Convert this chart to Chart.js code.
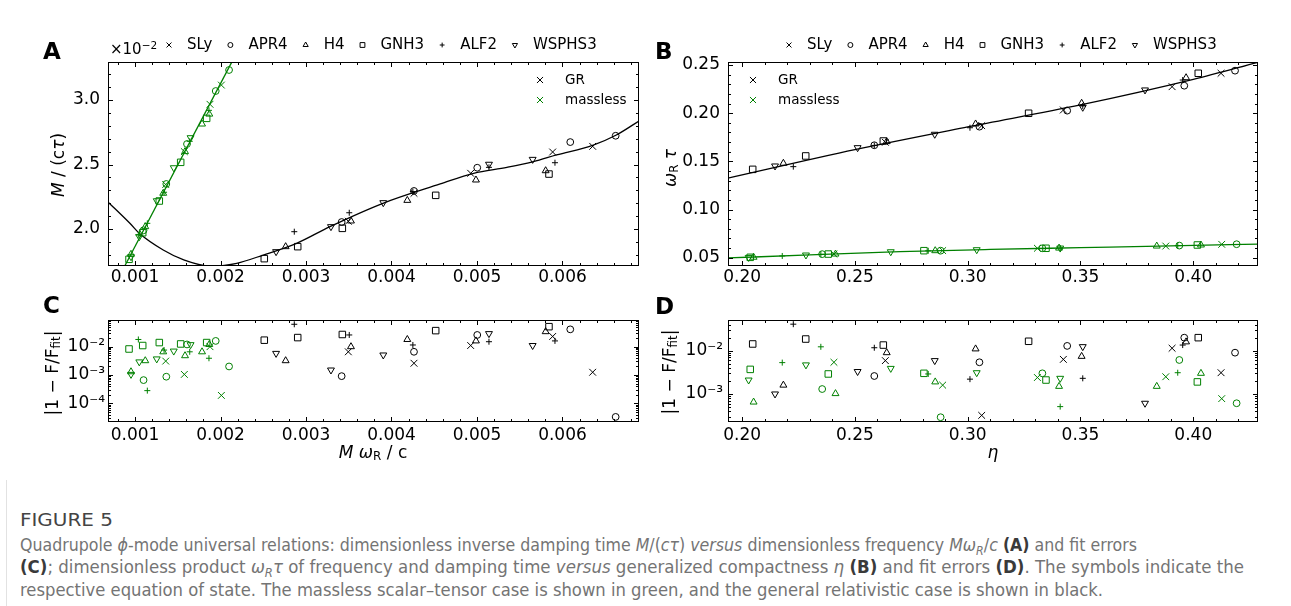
<!DOCTYPE html>
<html>
<head>
<meta charset="utf-8">
<title>Figure 5</title>
<script src="https://cdn.jsdelivr.net/npm/chart.js@4.4.1/dist/chart.umd.min.js"></script>
<style>
  html, body { margin: 0; padding: 0; background: #fff; }
  body { position: relative; width: 1291px; height: 606px; overflow: hidden; font-family: 'DejaVu Sans', sans-serif; color: #000; }
  .box { position: absolute; }
  .letter { position: absolute; font: bold 23px 'DejaVu Sans', sans-serif; line-height: 1; }
  .ytitle { position: absolute; white-space: nowrap; font-size: 17px; line-height: 1; transform: translate(-50%, -50%) rotate(-90deg); }
  .xtitle { position: absolute; white-space: nowrap; font-size: 17px; line-height: 1; transform: translate(-50%, -50%); }
  .ytitle sub, .xtitle sub { font-size: 70%; vertical-align: -0.22em; line-height: 0; }
  .offset { position: absolute; left: 110px; top: 42px; font-size: 15px; line-height: 1; }
  .offset sup { font-size: 70%; vertical-align: 0.45em; line-height: 0; }
  .cap { position: absolute; left: 20px; white-space: nowrap; line-height: 20px; transform-origin: 0 50%;
         font-family: 'Liberation Sans Narrow', 'DejaVu Sans Condensed', 'Liberation Sans', sans-serif; font-size: 17px; color: #747474; }
  .cap b { color: #3a3a3a; }
  .cap sub { font-size: 70%; line-height: 0; }
  .fig { font-weight: normal; color: #444; font-size: 18px; }
  .rule { position: absolute; left: 6px; top: 480px; width: 1px; height: 126px; background: #e2e2e2; }
</style>
</head>
<body>

<div class="box" style="left:30px;top:30px;width:630px;height:270px"><canvas id="chartA" width="630" height="270"></canvas></div>
<div class="box" style="left:650px;top:30px;width:620px;height:270px"><canvas id="chartB" width="620" height="270"></canvas></div>
<div class="box" style="left:30px;top:300px;width:630px;height:160px"><canvas id="chartC" width="630" height="160"></canvas></div>
<div class="box" style="left:650px;top:300px;width:620px;height:160px"><canvas id="chartD" width="620" height="160"></canvas></div>

<div class="letter" style="left:43px;top:40px">A</div>
<div class="letter" style="left:655px;top:40px">B</div>
<div class="letter" style="left:43px;top:294px">C</div>
<div class="letter" style="left:655px;top:295px">D</div>

<div class="offset">×10<sup>−2</sup></div>
<div class="ytitle" style="left:58px;top:165px"><i>M</i> / (c<i>τ</i>)</div>
<div class="ytitle" style="left:670px;top:168px"><i>ω</i><sub>R</sub> <i>τ</i></div>
<div class="ytitle" style="left:52px;top:373px">|1 − F/F<sub>fit</sub>|</div>
<div class="ytitle" style="left:669px;top:372px">|1 − F/F<sub>fit</sub>|</div>
<div class="xtitle" style="left:373px;top:452px"><i>M</i> <i>ω</i><sub>R</sub> / c</div>
<div class="xtitle" style="left:993px;top:452px"><i>η</i></div>

<div class="rule"></div>
<div class="cap fig fit" data-w="93" style="top:510px">FIGURE 5</div>
<div class="cap fit" data-w="1117" style="top:535px">Quadrupole <i>ϕ</i>-mode universal relations: dimensionless inverse damping time <i>M</i>/(<i>cτ</i>) <i>versus</i> dimensionless frequency <i>Mω<sub>R</sub></i>/<i>c</i> <b>(A)</b> and fit errors</div>
<div class="cap fit" data-w="1224" style="top:557px"><b>(C)</b>; dimensionless product <i>ω<sub>R</sub>τ</i> of frequency and damping time <i>versus</i> generalized compactness <i>η</i> <b>(B)</b> and fit errors <b>(D)</b>. The symbols indicate the</div>
<div class="cap fit" data-w="1083" style="top:580px">respective equation of state. The massless scalar–tensor case is shown in green, and the general relativistic case is shown in black.</div>

<script>
// Equations of state and their markers
const eosNames = ['SLy', 'APR4', 'H4', 'GNH3', 'ALF2', 'WSPHS3'];
const eosMarkers = ['crossRot', 'circle', 'triangle', 'rect', 'cross', 'triangle'];
const eosRotation = [0, 0, 0, 0, 0, 180];
const eosRadius = [4.8, 3.4, 4, 4.6, 3, 4];
const keyRadius = [3.5, 2.5, 3, 3.4, 2.4, 3];

// Panel A / C : M omega_R / c  vs  M/(c tau) [x 1e-2], fit errors
const grMw = [
  [0.003495, 0.004263, 0.004926, 0.005885, 0.006353],
  [0.003417, 0.004263, 0.005003, 0.006091, 0.006622],
  [0.002762, 0.003526, 0.004185, 0.004988, 0.005803],
  [0.002512, 0.002903, 0.003425, 0.004517, 0.005842],
  [0.002863, 0.003506, 0.004250, 0.005140, 0.005912],
  [0.002650, 0.003292, 0.003904, 0.005140, 0.005651]
];
const grInvTau = [
  [2.060, 2.277, 2.432, 2.597, 2.641],
  [2.054, 2.295, 2.475, 2.674, 2.723],
  [1.863, 2.062, 2.222, 2.380, 2.452],
  [1.770, 1.863, 2.005, 2.261, 2.426],
  [1.979, 2.126, 2.290, 2.478, 2.514],
  [1.824, 2.018, 2.204, 2.502, 2.540]
];
const grErrA = [
  [6.6e-3, 2.6e-3, 1.1e-2, 2.3e-2, 1.25e-3],
  [9.1e-4, 6.6e-3, 2.6e-2, 4.1e-2, 3.3e-5],
  [3.2e-3, 1.0e-2, 1.8e-2, 1.6e-2, 3.4e-2],
  [1.7e-2, 2.1e-2, 2.7e-2, 3.7e-2, 5.1e-2],
  [6.2e-2, 2.6e-2, 1.15e-2, 1.5e-2, 1.6e-2],
  [5.8e-3, 1.5e-3, 5.1e-3, 2.9e-2, 1.1e-2]
];
const msMw = [
  [0.001359, 0.001577, 0.001877, 0.002010],
  [0.001100, 0.001366, 0.001608, 0.001944, 0.002100],
  [0.000953, 0.001120, 0.001330, 0.001585, 0.001784, 0.001869],
  [0.000930, 0.001090, 0.001284, 0.001534, 0.001838],
  [0.001039, 0.001144, 0.001340, 0.001640, 0.001865],
  [0.000953, 0.001050, 0.001254, 0.001453, 0.001650]
];
const msInvTau = [
  [2.345, 2.600, 2.967, 3.116],
  [1.990, 2.349, 2.659, 3.070, 3.233],
  [1.804, 2.018, 2.277, 2.600, 2.814, 2.891],
  [1.765, 1.971, 2.217, 2.517, 2.858],
  [1.955, 2.044, 2.285, 2.680, 2.920],
  [1.785, 1.940, 2.219, 2.475, 2.708]
];
const msErrA = [
  [3.1e-3, 1.05e-3, 1.0e-2, 1.9e-4],
  [6.6e-4, 8.7e-4, 1.2e-2, 1.6e-2, 2.0e-3],
  [1.3e-3, 3.2e-3, 6.6e-3, 4.8e-3, 6.6e-3, 1.2e-2],
  [8.3e-3, 1.1e-2, 1.4e-2, 1.25e-2, 1.4e-2],
  [1.8e-2, 2.8e-4, 7.6e-3, 6.6e-3, 3.9e-3],
  [1.05e-3, 2.9e-3, 3.7e-3, 7.0e-3, 1.18e-2]
];
const grFitAx = [0.00068, 0.00094, 0.00106, 0.00133, 0.00157, 0.00188, 0.00219, 0.00250, 0.00289, 0.00328, 0.00390, 0.00457, 0.00496, 0.00535, 0.00566, 0.00593, 0.00636, 0.00663, 0.00690];
const grFitAy = [2.212, 2.044, 1.961, 1.837, 1.760, 1.710, 1.734, 1.798, 1.889, 2.018, 2.199, 2.349, 2.432, 2.478, 2.522, 2.574, 2.651, 2.729, 2.840];
const msFitAx = [0.00088, 0.00213];
const msFitAy = [1.713, 3.292];

// Panel B / D : eta  vs  omega_R tau, fit errors
const grEta = [
  [0.2635, 0.3062, 0.3424, 0.3906, 0.4123],
  [0.2586, 0.3052, 0.3441, 0.3960, 0.4185],
  [0.2183, 0.2641, 0.3035, 0.3505, 0.3968],
  [0.2047, 0.2282, 0.2626, 0.3270, 0.4022],
  [0.2227, 0.2586, 0.3010, 0.3510, 0.3953],
  [0.2146, 0.2512, 0.2854, 0.3510, 0.3786]
];
const grOmegaTau = [
  [0.1698, 0.1870, 0.2033, 0.2275, 0.2414],
  [0.1667, 0.1860, 0.2026, 0.2285, 0.2441],
  [0.1480, 0.1705, 0.1888, 0.2103, 0.2368],
  [0.1417, 0.1556, 0.1711, 0.1999, 0.2414],
  [0.1445, 0.1665, 0.1849, 0.2075, 0.2344],
  [0.1452, 0.1642, 0.1781, 0.2061, 0.2241]
];
const grErrB = [
  [5.9e-3, 3.2e-4, 6.3e-3, 1.14e-2, 3.1e-3],
  [2.6e-3, 5.4e-3, 1.29e-2, 2.0e-2, 9.0e-3],
  [1.6e-3, 9.0e-3, 1.1e-2, 7.4e-3, 1.6e-2],
  [1.43e-2, 1.86e-2, 1.35e-2, 1.65e-2, 2.0e-2],
  [4.1e-2, 1.17e-2, 2.2e-3, 2.3e-3, 1.35e-2],
  [1.0e-3, 3.3e-3, 5.9e-3, 1.24e-2, 6.1e-4]
];
const msEta = [
  [0.2407, 0.2889, 0.3309, 0.3878, 0.4126],
  [0.2355, 0.2880, 0.3331, 0.3938, 0.4192],
  [0.2051, 0.2414, 0.2856, 0.3405, 0.3838, 0.4034],
  [0.2036, 0.2382, 0.2806, 0.3347, 0.4018],
  [0.2178, 0.2349, 0.2825, 0.3410, 0.3931],
  [0.2029, 0.2283, 0.2659, 0.3040, 0.3410]
];
const msOmegaTau = [
  [0.0538, 0.0574, 0.0598, 0.0621, 0.0639],
  [0.0537, 0.0573, 0.0598, 0.0626, 0.0640],
  [0.0505, 0.0538, 0.0573, 0.0600, 0.0621, 0.0632],
  [0.0504, 0.0538, 0.0573, 0.0598, 0.0632],
  [0.0518, 0.0535, 0.0572, 0.0600, 0.0626],
  [0.0503, 0.0528, 0.0562, 0.0583, 0.0600]
];
const msErrB = [
  [5.4e-3, 1.6e-3, 2.4e-3, 2.5e-3, 7.8e-4],
  [1.3e-3, 2.9e-4, 3.0e-3, 6.1e-3, 6.1e-4],
  [6.5e-4, 1.02e-3, 1.9e-3, 1.5e-3, 1.5e-3, 3.0e-3],
  [3.7e-3, 2.9e-3, 3.0e-3, 2.1e-3, 1.9e-3],
  [5.3e-3, 1.23e-2, 2.9e-3, 5.1e-4, 3.1e-3],
  [2.1e-3, 4.7e-3, 3.9e-3, 3.1e-3, 2.3e-3]
];
const grFitBx = [0.1933, 0.25, 0.30, 0.35, 0.40, 0.4290];
const grFitBy = [0.1324, 0.1622, 0.1858, 0.2085, 0.2350, 0.2530];
const msFitBx = [0.1933, 0.23, 0.27, 0.31, 0.35, 0.39, 0.4290];
const msFitBy = [0.0497, 0.0529, 0.0563, 0.0586, 0.0604, 0.0622, 0.0642];

// Tick labels
const mwTicks = [0.001, 0.002, 0.003, 0.004, 0.005, 0.006];
const invTauTicks = [2.0, 2.5, 3.0];
const etaTicks = [0.20, 0.25, 0.30, 0.35, 0.40];
const omegaTauTicks = [0.05, 0.10, 0.15, 0.20, 0.25];
const errTicksC = [1e-4, 1e-3, 1e-2];
const errTicksD = [1e-3, 1e-2];

const GREEN = '#008000';
const FONT = "'DejaVu Sans'";

function eosSets(xs, ys, color) {
  return eosNames.map((name, i) => ({
    label: name,
    data: xs[i].map((x, j) => ({ x: x, y: ys[i][j] })),
    pointStyle: eosMarkers[i],
    pointRotation: eosRotation[i],
    pointRadius: eosRadius[i],
    pointBorderWidth: 1,
    pointBorderColor: color,
    pointBackgroundColor: 'rgba(0,0,0,0)',
    showLine: false
  }));
}

function fitSet(xs, ys, color) {
  return {
    label: 'fit',
    data: xs.map((x, i) => ({ x: x, y: ys[i] })),
    showLine: true,
    borderColor: color,
    borderWidth: 1.3,
    pointRadius: 0,
    cubicInterpolationMode: 'monotone'
  };
}

const superDigits = { '-': '⁻', '0': '⁰', '1': '¹', '2': '²', '3': '³', '4': '⁴', '5': '⁵', '6': '⁶', '7': '⁷', '8': '⁸', '9': '⁹' };
function powLabel(v) {
  const e = String(Math.round(Math.log10(v)));
  return '10' + e.split('').map(c => superDigits[c]).join('');
}

function axis(opts) {
  return {
    type: opts.type || 'linear',
    min: opts.min,
    max: opts.max,
    afterBuildTicks: s => { s.ticks = opts.ticks.map(v => ({ value: v })); },
    afterFit: s => { if (opts.width) s.width = opts.width; if (opts.height) s.height = opts.height; },
    grid: { display: false, drawTicks: false },
    border: { display: false },
    ticks: {
      autoSkip: false, maxRotation: 0, padding: opts.pad,
      color: '#000', font: { family: FONT, size: 17 },
      callback: opts.fmt
    }
  };
}

// inward tick marks on all four sides plus the frame
function tickList(scale, step, majors) {
  const out = [];
  if (scale.type === 'logarithmic') {
    const lo = Math.floor(Math.log10(scale.min)), hi = Math.ceil(Math.log10(scale.max));
    for (let d = lo; d <= hi; d++) {
      for (let k = 1; k <= 9; k++) {
        const v = k * Math.pow(10, d);
        if (v >= scale.min && v <= scale.max) out.push({ v: v, major: k === 1 });
      }
    }
  } else {
    const n0 = Math.ceil(scale.min / step - 1e-6), n1 = Math.floor(scale.max / step + 1e-6);
    for (let n = n0; n <= n1; n++) {
      const v = n * step;
      out.push({ v: v, major: majors.some(m => Math.abs(m - v) < step / 10) });
    }
  }
  return out;
}

const framePlugin = {
  id: 'frame',
  afterDatasetsDraw(chart, args, o) {
    const { ctx, chartArea: a } = chart;
    const xs = chart.scales.x, ys = chart.scales.y;
    ctx.save();
    ctx.strokeStyle = '#000';
    ctx.lineWidth = 1;
    ctx.beginPath();
    tickList(xs, o.xStep, o.xMajor).forEach(t => {
      const p = Math.round(xs.getPixelForValue(t.v)) + 0.5;
      const len = t.major ? 5 : 3;
      ctx.moveTo(p, a.bottom); ctx.lineTo(p, a.bottom - len);
      ctx.moveTo(p, a.top); ctx.lineTo(p, a.top + len);
    });
    tickList(ys, o.yStep, o.yMajor).forEach(t => {
      const p = Math.round(ys.getPixelForValue(t.v)) + 0.5;
      const len = t.major ? 5 : 3;
      ctx.moveTo(a.left, p); ctx.lineTo(a.left + len, p);
      ctx.moveTo(a.right, p); ctx.lineTo(a.right - len, p);
    });
    ctx.stroke();
    ctx.strokeRect(a.left + 0.5, a.top + 0.5, a.right - a.left - 1, a.bottom - a.top - 1);
    ctx.restore();
  }
};

// symbol key above the plot and GR / massless key inside it
const keyPlugin = {
  id: 'keys',
  afterDraw(chart, args, o) {
    const { ctx, chartArea: a } = chart;
    const drawPoint = Chart.helpers.drawPoint;
    ctx.save();
    ctx.textBaseline = 'middle';
    ctx.lineWidth = 1;
    if (o.eos) {
      ctx.font = '15px ' + FONT;
      let x = a.left + o.eos.dx;
      const y = a.top + o.eos.dy;
      eosNames.forEach((name, i) => {
        ctx.strokeStyle = '#000';
        ctx.fillStyle = 'rgba(0,0,0,0)';
        drawPoint(ctx, { pointStyle: eosMarkers[i], rotation: eosRotation[i], radius: keyRadius[i], borderWidth: 1 }, x, y);
        ctx.fillStyle = '#000';
        ctx.fillText(name, x + 18, y);
        x += 18 + ctx.measureText(name).width + 18;
      });
    }
    if (o.theory) {
      ctx.font = '13.5px ' + FONT;
      const base = o.theory.fromRight ? a.right : a.left;
      const mx = base + o.theory.dx, tx = mx + 25;
      [['GR', '#000'], ['massless', GREEN]].forEach((item, k) => {
        const y = a.top + 18 + 20 * k;
        ctx.strokeStyle = item[1];
        drawPoint(ctx, { pointStyle: 'crossRot', radius: 4.3, borderWidth: 1 }, mx, y);
        ctx.fillStyle = '#000';
        ctx.fillText(item[0], tx, y);
      });
    }
    ctx.restore();
  }
};

function makeChart(id, datasets, scales, pad, frame, keys) {
  return new Chart(document.getElementById(id), {
    type: 'scatter',
    data: { datasets: datasets },
    options: {
      responsive: false,
      animation: false,
      events: [],
      layout: { padding: pad },
      scales: scales,
      plugins: { legend: { display: false }, tooltip: { enabled: false }, frame: frame, keys: keys }
    },
    plugins: [framePlugin, keyPlugin]
  });
}

// Panel A
makeChart('chartA',
  [].concat(eosSets(grMw, grInvTau, '#000'), eosSets(msMw, msInvTau, GREEN),
            [fitSet(grFitAx, grFitAy, '#000'), fitSet(msFitAx, msFitAy, GREEN)]),
  {
    x: axis({ min: 0.000684, max: 0.006895, ticks: mwTicks, height: 34, pad: 1, fmt: v => v.toFixed(3) }),
    y: axis({ min: 1.713, max: 3.295, ticks: invTauTicks, width: 78, pad: 8, fmt: v => v.toFixed(1) })
  },
  { top: 32, right: 21, left: 0, bottom: 0 },
  { xStep: 0.0002, xMajor: mwTicks, yStep: 0.1, yMajor: invTauTicks },
  { eos: { dx: 61, dy: -17 }, theory: { fromRight: true, dx: -99 } });

// Panel B
makeChart('chartB',
  [].concat(eosSets(grEta, grOmegaTau, '#000'), eosSets(msEta, msOmegaTau, GREEN),
            [fitSet(grFitBx, grFitBy, '#000'), fitSet(msFitBx, msFitBy, GREEN)]),
  {
    x: axis({ min: 0.19375, max: 0.42868, ticks: etaTicks, height: 34, pad: 1, fmt: v => v.toFixed(2) }),
    y: axis({ min: 0.0414, max: 0.2531, ticks: omegaTauTicks, width: 78, pad: 8, fmt: v => v.toFixed(2) })
  },
  { top: 32, right: 12, left: 0, bottom: 0 },
  { xStep: 0.01, xMajor: etaTicks, yStep: 0.01, yMajor: omegaTauTicks },
  { eos: { dx: 61, dy: -17 }, theory: { fromRight: false, dx: 25 } });

// Panel C
makeChart('chartC',
  [].concat(eosSets(grMw, grErrA, '#000'), eosSets(msMw, msErrA, GREEN)),
  {
    x: axis({ min: 0.000684, max: 0.006895, ticks: mwTicks, height: 38, pad: 3, fmt: v => v.toFixed(3) }),
    y: axis({ type: 'logarithmic', min: 2.18e-5, max: 0.0878, ticks: errTicksC, width: 78, pad: 3, fmt: powLabel })
  },
  { top: 20, right: 21, left: 0, bottom: 0 },
  { xStep: 0.0002, xMajor: mwTicks },
  {});

// Panel D
makeChart('chartD',
  [].concat(eosSets(grEta, grErrB, '#000'), eosSets(msEta, msErrB, GREEN)),
  {
    x: axis({ min: 0.19375, max: 0.42868, ticks: etaTicks, height: 38, pad: 3, fmt: v => v.toFixed(2) }),
    y: axis({ type: 'logarithmic', min: 2.25e-4, max: 0.0512, ticks: errTicksD, width: 78, pad: 5, fmt: powLabel })
  },
  { top: 20, right: 12, left: 0, bottom: 0 },
  { xStep: 0.01, xMajor: etaTicks },
  {});

// stretch caption lines to the widths of the original
document.querySelectorAll('.fit').forEach(el => {
  const w = el.getBoundingClientRect().width;
  el.style.transform = 'scaleX(' + (el.dataset.w / w) + ')';
});
</script>
</body>
</html>
